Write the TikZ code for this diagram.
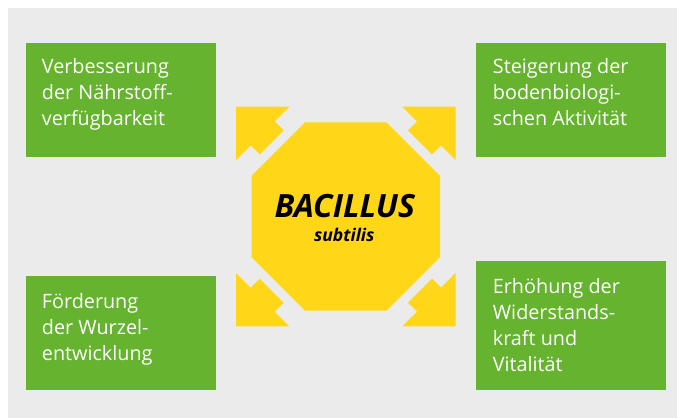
\documentclass[tikz,border=0pt]{standalone}
\usepackage{fontspec}
\setmainfont{Open Sans}
\definecolor{bggray}{HTML}{EBEBEB}
\definecolor{boxgreen}{HTML}{65B32E}
\definecolor{bacyellow}{HTML}{FFD618}
\tikzset{
  greenbox/.style={fill=boxgreen, draw=none, inner sep=0pt, minimum width=190pt, anchor=north west},
  boxtext/.style={text=white, inner sep=0pt, anchor=base west, align=left, font=\fontsize{19.8}{26}\selectfont},
  yel/.style={fill=bacyellow, draw=none},
}
\begin{document}
\begin{tikzpicture}[x=1pt,y=-1pt]
\useasboundingbox (0,0) rectangle (677,418);
\fill[white] (0,0) rectangle (677,418);
\fill[bggray] (8,8) rectangle (676.5,418);
% green boxes
\node[greenbox, minimum height=114pt] (b1) at (26,43) {};
\node[greenbox, minimum height=114pt] (b2) at (476,43) {};
\node[greenbox, minimum height=114pt] (b3) at (26,276) {};
\node[greenbox, minimum height=129pt] (b4) at (476,261) {};
% texts (base anchor = last line baseline)
\node[boxtext] (t1) at (41.7,125.3) {Verbesserung\\der Nährstoff-\\verfügbarkeit};
\node[boxtext] (t2) at (492.7,125.3) {Steigerung der\\bodenbiologi-\\schen Aktivität};
\node[boxtext] (t3) at (41.7,360) {Förderung\\der Wurzel-\\entwicklung};
\node[boxtext] (t4) at (492.7,371.5) {Erhöhung der\\Widerstands-\\kraft und\\Vitalität};
% octagon and arrows
\begin{scope}[shift={(345.8,216.5)}]
\fill[yel] (-40.7,-94.2) -- (40.7,-94.2) -- (94.2,-40.7) -- (94.2,40.7) -- (40.7,94.2) -- (-40.7,94.2) -- (-94.2,40.7) -- (-94.2,-40.7) -- cycle;
\foreach \sx/\sy in {1/1,-1/1,1/-1,-1/-1}{
  \begin{scope}[xscale=\sx,yscale=\sy]
  \fill[yel] (-109.8,-109.8) -- (-56.5,-109.8) -- (-71.15,-95.15) -- (-62.15,-86.15) -- (-86.15,-62.15) -- (-95.15,-71.15) -- (-109.8,-56.5) -- cycle;
  \end{scope}
}
\node[inner sep=0pt, anchor=base, font=\fontsize{32}{34}\selectfont\bfseries\itshape] (bac) at (-1,1.2) {BACILLUS};
\node[inner sep=0pt, anchor=base, font=\fontsize{17.5}{19}\selectfont\bfseries\itshape] (sub) at (-1.5,25.2) {subtilis};
\end{scope}
\end{tikzpicture}
\end{document}
